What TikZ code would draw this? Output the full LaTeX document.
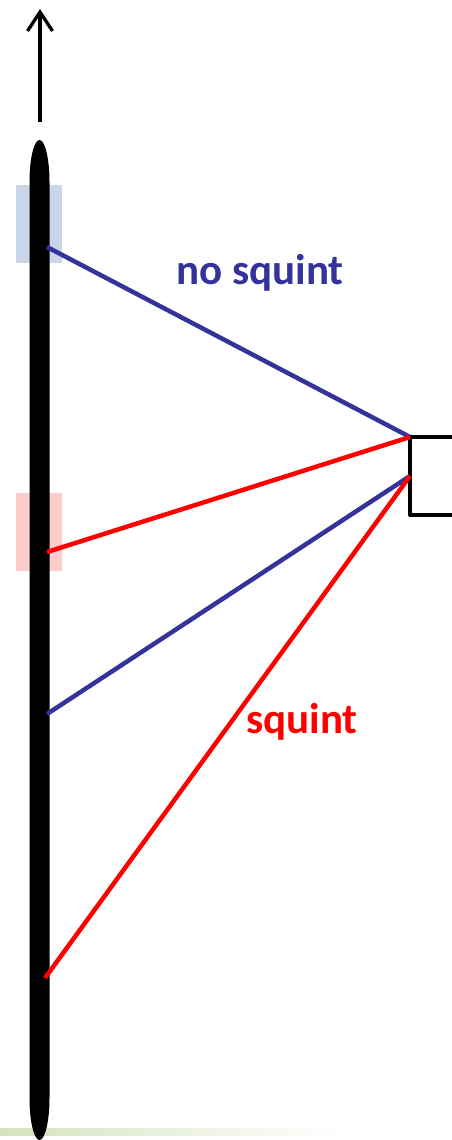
\documentclass[tikz,border=0pt]{standalone}
\usepackage{fontspec}
\setmainfont{Carlito}
\usetikzlibrary{arrows.meta}
\definecolor{lineblue}{RGB}{51,51,153}
\definecolor{linered}{RGB}{255,0,0}
\definecolor{patchblue}{RGB}{201,214,234}
\definecolor{patchred}{RGB}{255,204,204}
\definecolor{stripgreen}{RGB}{214,226,190}
\tikzset{
  ray/.style={line width=4.5pt},
  patch/.style={inner sep=0pt, minimum width=46pt, minimum height=78pt},
  lbl/.style={font=\fontsize{43}{43}\selectfont\bfseries, inner sep=0pt, anchor=base}
}
\begin{document}
\begin{tikzpicture}[x=1pt,y=-1pt]
\useasboundingbox (0,0) rectangle (451,1140);
% faint strip at bottom
\shade[left color=stripgreen, right color=white] (0,1128) rectangle (340,1135);
% patches
\node[patch, fill=patchblue] (pb) at (39,224) {};
\node[patch, fill=patchred] (pr) at (39,532) {};
% antenna
\fill[black] (29.5,182) -- (29.5,1098) arc (180:0:10 and 42) -- (49.5,182) arc (0:-180:10 and 42) -- cycle;
% arrow
\coordinate (as) at (40,122);
\coordinate (ae) at (40,9);
\draw[line width=3.3pt, -{Straight Barb[length=19pt,width=25pt]}] (as) -- (ae);
% box (open at right)
\coordinate (b1) at (455,437);
\coordinate (b2) at (410,437);
\coordinate (b3) at (410,515);
\coordinate (b4) at (455,515);
\draw[line width=4pt, line join=round] (b1) -- (b2) -- (b3) -- (b4);
% ray points
\coordinate (s1) at (410,437);
\coordinate (s2) at (410,476);
\coordinate (p1) at (47,247);
\coordinate (p2) at (47,552);
\coordinate (p3) at (47,714);
\coordinate (p4) at (45,978);
\draw[ray, lineblue] (p1) -- (s1);
\draw[ray, linered] (p2) -- (s1);
\draw[ray, lineblue] (p3) -- (s2);
\draw[ray, linered] (p4) -- (s2);
% labels
\node[lbl, text=lineblue] (nsq) at (260,284) {no squint};
\node[lbl, text=linered] (sq) at (302,733) {squint};
\end{tikzpicture}
\end{document}
